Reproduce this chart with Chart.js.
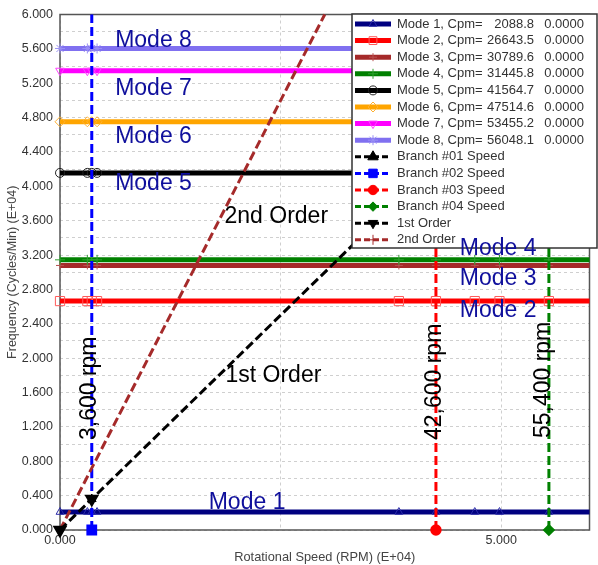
<!DOCTYPE html>
<html><head><meta charset="utf-8">
<script src="https://cdn.jsdelivr.net/npm/chart.js@4/dist/chart.umd.min.js"></script>
<style>html,body{margin:0;padding:0;background:#fff}canvas{display:block}</style>
</head><body>
<canvas id="c" width="598" height="565"></canvas>
<script>
// ---------- DATA ----------
const modeNames = ['Mode 1','Mode 2','Mode 3','Mode 4','Mode 5','Mode 6','Mode 7','Mode 8'];
const modeCpm = [2088.8, 26643.5, 30789.6, 31445.8, 41564.7, 47514.6, 53455.2, 56048.1];
const modeDamping = ['0.0000','0.0000','0.0000','0.0000','0.0000','0.0000','0.0000','0.0000'];
// speeds (E+04 rpm) where the mode curves carry markers
const markerSpeeds = [0, 0.31, 0.36, 0.42, 3.84, 4.26, 4.70, 4.98, 5.54];
const speedEnd = 6.0;
const branchNames = ['Branch #01 Speed','Branch #02 Speed','Branch #03 Speed','Branch #04 Speed'];
const branchSpeeds = [0.36, 0.36, 4.26, 5.54]; // E+04 rpm
const firstOrderX = [0, 0.36, 6];
const firstOrderY = [0, 0.36, 6];
const secondOrderX = [0, 3];
const secondOrderY = [0, 6];
const xTickLabelsAt = [0, 5];
const yMin = 0, yMax = 6, xMin = 0, xMax = 6;

// ---------- STYLES ----------
const modeColors = ['#000080','#ff0000','#a52a2a','#008000','#000000','#ffa500','#ff00ff','#8070f0'];
const modeMarkerColors = ['#2a2aa8','#ff5a5a','#b85050','#30a030','#222222','#ffb030','#ff40ff','#9a90f5'];
const modeMarkerStyles = ['triangle','rect','cross','cross','circle','rectRot','triangle','star'];
const modeMarkerRot = [0,0,0,0,0,0,180,0];
const modeMarkerRadius = [4.5,6.5,4,5,4.5,5,5,5];
const branchColors = ['#000000','#0000ff','#ff0000','#008000'];
const branchMarkerStyles = ['triangle','rect','circle','rectRot'];
const branchMarkerRadius = [5.5,5.5,4.2,4.2];
const FONT = '"Liberation Sans", Arial, sans-serif';

const datasets = [];
// order lines
datasets.push({
  label:'1st Order', data:firstOrderX.map((x,i)=>({x, y:firstOrderY[i]})),
  showLine:true, borderColor:'#000', borderWidth:3, borderDash:[9,4],
  pointStyle:'triangle', pointRotation:180, pointRadius:[5.5,5.5,0],
  pointBackgroundColor:'#000', pointBorderColor:'#000', order:1, clip:false
});
datasets.push({
  label:'2nd Order', data:secondOrderX.map((x,i)=>({x, y:secondOrderY[i]})),
  showLine:true, borderColor:'#a52a2a', borderWidth:3, borderDash:[9,4],
  pointRadius:0, order:2, clip:false
});
// branch speeds
branchSpeeds.forEach((s,i)=>{
  if (i === 0) {
    datasets.push({
      label:branchNames[i], data:[{x:s, y:firstOrderY[1]}], showLine:false,
      pointStyle:'triangle', pointRadius:5, pointBackgroundColor:'#000', pointBorderColor:'#000',
      order:3, clip:false
    });
  } else {
    datasets.push({
      label:branchNames[i], data:[{x:s, y:yMin},{x:s, y:yMax}], showLine:true,
      borderColor:branchColors[i], borderWidth:3, borderDash:[9,4],
      pointStyle:branchMarkerStyles[i], pointRadius:[branchMarkerRadius[i],0],
      pointBackgroundColor:branchColors[i], pointBorderColor:branchColors[i],
      order:3+i, clip:false
    });
  }
});
// modes
modeCpm.forEach((c,i)=>{
  const f = c/10000;
  const pts = markerSpeeds.map(x=>({x, y:f}));
  pts.push({x:speedEnd, y:f});
  datasets.push({
    label:modeNames[i], data:pts, showLine:true,
    borderColor:modeColors[i], borderWidth:5,
    pointStyle:modeMarkerStyles[i], pointRotation:modeMarkerRot[i],
    pointRadius:pts.map((p,k)=>k<markerSpeeds.length?modeMarkerRadius[i]:0),
    pointBorderWidth:1, pointBorderColor:modeMarkerColors[i], pointBackgroundColor:'rgba(255,255,255,0)',
    order:20-i, clip:false
  });
});

// ---------- ANNOTATIONS (text) ----------
const annoNavy = '#0f0f9c';
const annotations = [
  {text:'Mode 8', x:0.625, y:5.616, color:annoNavy},
  {text:'Mode 7', x:0.625, y:5.058, color:annoNavy},
  {text:'Mode 6', x:0.625, y:4.50, color:annoNavy},
  {text:'Mode 5', x:0.625, y:3.953, color:annoNavy},
  {text:'Mode 4', x:4.53, y:3.20, color:annoNavy},
  {text:'Mode 3', x:4.53, y:2.85, color:annoNavy},
  {text:'Mode 2', x:4.53, y:2.477, color:annoNavy},
  {text:'Mode 1', x:1.685, y:0.244, color:annoNavy},
  {text:'2nd Order', x:1.864, y:3.57, color:'#000'},
  {text:'1st Order', x:1.875, y:1.72, color:'#000'},
  {text:'3,600 rpm', x:0.413, y:1.047, color:'#000', rot:true},
  {text:'42,600 rpm', x:4.32, y:1.047, color:'#000', rot:true},
  {text:'55,400 rpm', x:5.547, y:1.07, color:'#000', rot:true}
];

// ---------- LEGEND ITEMS ----------
const legendItems = [];
modeNames.forEach((n,i)=>legendItems.push({
  parts:[n+', Cpm=', modeCpm[i].toFixed(1), modeDamping[i]],
  color:modeColors[i], lw:5, dash:[], ps:modeMarkerStyles[i], rot:modeMarkerRot[i],
  r:Math.min(modeMarkerRadius[i],5.5), pb:modeMarkerColors[i], pf:'rgba(255,255,255,0)'
}));
branchNames.forEach((n,i)=>legendItems.push({
  parts:[n], color:branchColors[i], lw:3, dash:[6,3], ps:branchMarkerStyles[i], rot:0,
  r:branchMarkerRadius[i]+0.5, pb:branchColors[i], pf:branchColors[i]
}));
legendItems.push({parts:['1st Order'], color:'#000', lw:3, dash:[6,3], ps:'triangle', rot:180, r:5.5, pb:'#000', pf:'#000'});
legendItems.push({parts:['2nd Order'], color:'#a52a2a', lw:3, dash:[6,3], ps:'cross', rot:0, r:5, pb:'#a52a2a', pf:'#a52a2a'});

const framePlugin = {
  id:'frame',
  beforeDatasetsDraw(chart){
    const {ctx, chartArea:a} = chart;
    ctx.save();
    ctx.strokeStyle = '#555'; ctx.lineWidth = 1.5; ctx.setLineDash([]);
    ctx.strokeRect(a.left, a.top, a.right-a.left, a.bottom-a.top);
    ctx.restore();
  },
  afterDraw(chart){
    const ctx = chart.ctx;
    // legend
    const L=352, T=14, R=597, B=248;
    ctx.save();
    ctx.fillStyle='#fff'; ctx.fillRect(L,T,R-L,B-T);
    ctx.strokeStyle='#333'; ctx.lineWidth=1.5; ctx.setLineDash([]);
    ctx.strokeRect(L,T,R-L,B-T);
    legendItems.forEach((it,i)=>{
      const y = 24 + i*16.6;
      ctx.save();
      ctx.strokeStyle=it.color; ctx.lineWidth=it.lw; ctx.setLineDash(it.dash);
      ctx.beginPath(); ctx.moveTo(355,y); ctx.lineTo(391,y); ctx.stroke();
      ctx.restore();
      ctx.save();
      ctx.strokeStyle=it.pb; ctx.fillStyle=it.pf; ctx.lineWidth=1; ctx.setLineDash([]);
      Chart.helpers.drawPoint(ctx,{pointStyle:it.ps, rotation:it.rot, radius:it.r, borderWidth:1},373,y);
      ctx.restore();
      ctx.fillStyle='#333'; ctx.font='13px '+FONT; ctx.textBaseline='middle';
      ctx.textAlign='left'; ctx.fillText(it.parts[0],397,y);
      if (it.parts.length>1){
        ctx.textAlign='right';
        ctx.fillText(it.parts[1],534,y);
        ctx.fillText(it.parts[2],584,y);
      }
    });
    ctx.restore();
    // text annotations
    const xs = chart.scales.x, ys = chart.scales.y;
    annotations.forEach(a=>{
      const px = xs.getPixelForValue(a.x), py = ys.getPixelForValue(a.y);
      ctx.save();
      ctx.fillStyle=a.color; ctx.font='23px '+FONT; ctx.textBaseline='alphabetic'; ctx.textAlign='left';
      ctx.translate(px,py);
      if (a.rot) ctx.rotate(-Math.PI/2);
      ctx.fillText(a.text,0,0);
      ctx.restore();
    });
  }
};

new Chart(document.getElementById('c'), {
  type:'scatter',
  data:{datasets},
  options:{
    responsive:false, animation:false, devicePixelRatio:1, events:[],
    layout:{padding:{top:14,right:1,left:0,bottom:0}},
    plugins:{legend:{display:false}, tooltip:{enabled:false}},
    elements:{line:{tension:0}},
    scales:{
      x:{
        type:'linear', min:xMin, max:xMax,
        afterFit(s){ s.height = 35; },
        ticks:{stepSize:2.5, autoSkip:false, maxRotation:0, padding:3, color:'#333',
          font:{family:FONT, size:12.5},
          callback:(v)=> xTickLabelsAt.some(t=>Math.abs(t-v)<1e-6) ? Number(v).toFixed(3) : ''},
        grid:{color:'#cfcfcf', lineWidth:1, drawTicks:false},
        border:{display:false, dash:[3,3]},
        title:{display:true, text:'Rotational Speed (RPM) (E+04)', color:'#444',
          font:{family:FONT, size:12.8}, padding:{top:2.5,bottom:0}}
      },
      y:{
        type:'linear', min:yMin, max:yMax,
        afterFit(s){ s.width = 60; },
        ticks:{stepSize:0.2, autoSkip:false, padding:7, color:'#333',
          font:{family:FONT, size:12.5},
          callback:(v)=> (Math.round(v*10)%4===0) ? Number(v).toFixed(3) : ''},
        grid:{color:'#cfcfcf', lineWidth:1, drawTicks:false},
        border:{display:false, dash:[3,3]},
        title:{display:true, text:'Frequency (Cycles/Min) (E+04)', color:'#444',
          font:{family:FONT, size:12.5}, padding:{top:5,bottom:0}}
      }
    }
  },
  plugins:[framePlugin]
});
</script>
</body></html>
